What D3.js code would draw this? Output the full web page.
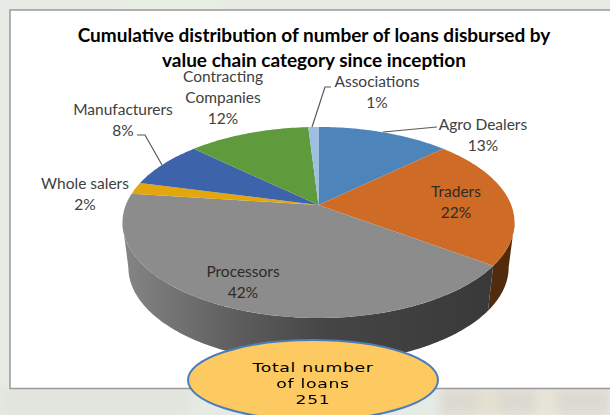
<!DOCTYPE html>
<html>
<head>
<meta charset="utf-8">
<script src="https://cdnjs.cloudflare.com/ajax/libs/d3/7.8.5/d3.min.js"></script>
<style>
  html, body { margin: 0; padding: 0; background: #e6eae4; }
  svg { display: block; filter: blur(0.35px); }
  text { font-family: Lato, "Open Sans", sans-serif; }
</style>
</head>
<body>
<div id="chart"></div>
<script>
const categories = ["Agro Dealers", "Traders", "Processors", "Whole salers", "Manufacturers", "Contracting Companies", "Associations"];
const shares = [13, 22, 42, 2, 8, 12, 1];
const sliceColors = ["#4d85bb", "#ce6b26", "#8c8c8c", "#e3a60c", "#3d64ab", "#5f9a3c", "#9dbfe2"];
const titleLines = ["Cumulative distribution of number of loans disbursed by", "value chain category since inception"];
const totalLines = ["Total number", "of loans", "251"];

const width = 610, height = 415;

// label layout: text lines, centre x, first baseline
const labelLayout = [
    { lines: ["Agro Dealers", "13%"], x: 483, y: 130 },
    { lines: ["Traders", "22%"], x: 456, y: 197, dark: true },
    { lines: ["Processors", "42%"], x: 243, y: 277, dark: true },
    { lines: ["Whole salers", "2%"], x: 85, y: 189 },
    { lines: ["Manufacturers", "8%"], x: 123, y: 115 },
    { lines: ["Contracting", "Companies", "12%"], x: 223, y: 82 },
    { lines: ["Associations", "1%"], x: 377, y: 87 }
];
const leaders = [
    [[437, 127], [383, 132]],
    [[137, 135], [145, 135], [162, 165]],
    [[331, 87], [325, 87], [312, 127]]
];

const svg = d3.select("#chart").append("svg")
    .attr("width", width)
    .attr("height", height);

const defs = svg.append("defs");
defs.append("filter").attr("id", "soft")
    .attr("x", "-20%").attr("y", "-20%").attr("width", "140%").attr("height", "140%")
    .append("feGaussianBlur").attr("stdDeviation", 5);
const wallGrad = defs.append("linearGradient").attr("id", "wallGray")
    .attr("gradientUnits", "userSpaceOnUse")
    .attr("x1", 123).attr("x2", 495).attr("y1", 0).attr("y2", 0);
[[0, "#858585"], [0.3, "#5e5e5e"], [0.55, "#454545"], [1, "#393939"]].forEach(s => {
    wallGrad.append("stop").attr("offset", s[0]).attr("stop-color", s[1]);
});

// washed-out photo behind the panel
const bg = svg.append("g").attr("filter", "url(#soft)");
bg.append("rect").attr("width", width).attr("height", height).attr("fill", "#e6eae4");
bg.append("rect").attr("x", 0).attr("y", 388).attr("width", 190).attr("height", 27).attr("fill", "#e2e5dd");
bg.append("rect").attr("x", 440).attr("y", 388).attr("width", 170).attr("height", 27).attr("fill", "#dcdad0");
bg.append("rect").attr("x", 478).attr("y", 390).attr("width", 22).attr("height", 25).attr("fill", "#e4e0d0");
bg.append("rect").attr("x", 535).attr("y", 390).attr("width", 22).attr("height", 25).attr("fill", "#e6e4d6");
bg.append("rect").attr("x", 120).attr("y", 0).attr("width", 100).attr("height", 10).attr("fill", "#e9f0e4");

svg.append("rect")
    .attr("x", 10).attr("y", 10)
    .attr("width", 640).attr("height", 378.5)
    .attr("fill", "#fff")
    .attr("stroke", "#999")
    .attr("stroke-width", 1.5);

// perspective tilt of the pie: unit disc -> screen
const tilt = 0.183;
const xScale = d3.scaleLinear().domain([-1, 1]).range([318.5 - 192.7, 318.5 + 192.7]);
const yScale = d3.scaleLinear().domain([-1, 1]).range([205 - 92.3, 205 + 92.3]);
const depth = 45;

function topPoint(a) {
    const s = 1 + tilt * Math.cos(a);
    return [xScale(Math.sin(a) / s), yScale(-Math.cos(a) / s)];
}
function bottomPoint(a) {
    const p = topPoint(a);
    return [318.5 + (p[0] - 318.5) * 0.97, p[1] + depth];
}
function arcSamples(a0, a1) {
    const n = Math.max(2, Math.ceil((a1 - a0) / 0.02));
    return d3.range(n + 1).map(i => a0 + (a1 - a0) * i / n);
}

const line = d3.line();
const pie = d3.pie().sort(null).value(d => d.value);
const slices = pie(shares.map((v, i) => ({ value: v, name: categories[i], color: sliceColors[i] })));

// wall runs between the widest points of the tilted disc
const wallFrom = Math.acos(-tilt), wallTo = 2 * Math.PI - wallFrom;
const wallColors = { Traders: "#522b0c", Processors: "url(#wallGray)" };

svg.append("g").selectAll("path")
    .data(slices.filter(d => wallColors[d.data.name]))
    .join("path")
    .attr("d", d => {
        const a0 = Math.max(d.startAngle, wallFrom), a1 = Math.min(d.endAngle, wallTo);
        const angles = arcSamples(a0, a1);
        return line(angles.map(topPoint).concat(angles.slice().reverse().map(bottomPoint))) + "Z";
    })
    .attr("fill", d => wallColors[d.data.name]);

const apex = [xScale(0), yScale(0)];
svg.append("g").selectAll("path")
    .data(slices)
    .join("path")
    .attr("d", d => line([apex].concat(arcSamples(d.startAngle, d.endAngle).map(topPoint))) + "Z")
    .attr("fill", d => d.data.color);

svg.append("g").selectAll("path")
    .data(leaders)
    .join("path")
    .attr("d", d => line(d))
    .attr("fill", "none")
    .attr("stroke", "#595959")
    .attr("stroke-width", 1.2);

const labels = svg.append("g").attr("text-anchor", "middle").attr("font-size", 15.5);
labelLayout.forEach(l => {
    l.lines.forEach((t, i) => {
        labels.append("text")
            .attr("x", l.x)
            .attr("y", l.y + i * 21)
            .attr("fill", l.dark ? "#2e2a26" : "#404040")
            .text(t);
    });
});

svg.append("g").selectAll("text")
    .data(titleLines)
    .join("text")
    .attr("x", 314)
    .attr("y", (d, i) => 42 + i * 25)
    .attr("text-anchor", "middle")
    .attr("font-size", 19)
    .attr("font-weight", 700)
    .attr("fill", "#000")
    .text(d => d);

svg.append("ellipse")
    .attr("cx", 313).attr("cy", 380)
    .attr("rx", 125).attr("ry", 40)
    .attr("fill", "#fdc961")
    .attr("stroke", "#4a7ebb")
    .attr("stroke-width", 2);

// the ellipse text is stretched sideways in the reference
svg.append("g").selectAll("text")
    .data(totalLines)
    .join("text")
    .attr("transform", (d, i) => `translate(313,${372 + i * 16}) scale(1.38,1)`)
    .attr("text-anchor", "middle")
    .attr("font-size", 12.5)
    .attr("letter-spacing", 0.5)
    .style("font-family", "'DejaVu Sans', sans-serif")
    .attr("fill", "#000")
    .text(d => d);
</script>
</body>
</html>
